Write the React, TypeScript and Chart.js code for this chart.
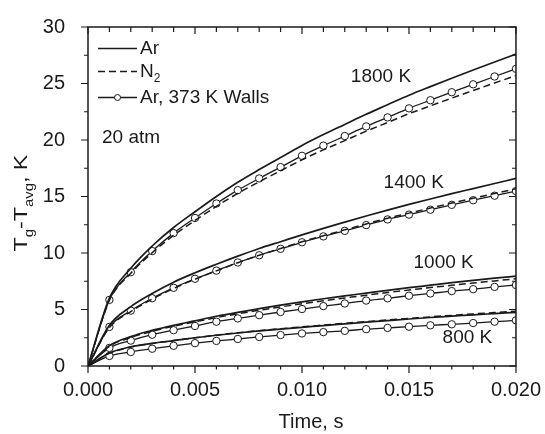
import React, { useEffect, useRef } from "react";
import { Chart, registerables } from "chart.js";
Chart.register(...registerables);

const time = [0, 0.001, 0.002, 0.003, 0.004, 0.005, 0.006, 0.007, 0.008, 0.009, 0.01, 0.011, 0.012, 0.013, 0.014, 0.015, 0.016, 0.017, 0.018, 0.019, 0.02];

const ar1800 = [0, 6.0, 8.65, 10.62, 12.26, 13.65, 15.0, 16.26, 17.38, 18.45, 19.52, 20.48, 21.38, 22.28, 23.12, 23.96, 24.72, 25.46, 26.19, 26.9, 27.6];
const n2_1800 = [0, 5.8, 8.2, 10.02, 11.56, 12.88, 14.13, 15.28, 16.3, 17.28, 18.25, 19.13, 19.95, 20.78, 21.55, 22.33, 23.02, 23.71, 24.38, 25.05, 25.7];
const walls1800 = [0, 5.85, 8.3, 10.17, 11.76, 13.1, 14.38, 15.56, 16.6, 17.6, 18.6, 19.5, 20.35, 21.2, 22.0, 22.8, 23.52, 24.23, 24.93, 25.62, 26.3];

const ar1400 = [0, 3.6, 5.25, 6.42, 7.42, 8.25, 9.0, 9.72, 10.4, 11.0, 11.6, 12.18, 12.73, 13.27, 13.8, 14.3, 14.78, 15.25, 15.7, 16.15, 16.6];
const n2_1400 = [0, 3.4, 4.82, 5.92, 6.86, 7.68, 8.42, 9.14, 9.8, 10.4, 11.0, 11.53, 12.05, 12.57, 13.08, 13.53, 13.98, 14.42, 14.85, 15.27, 15.68];
const walls1400 = [0, 3.46, 4.9, 6.0, 6.92, 7.72, 8.44, 9.16, 9.8, 10.37, 10.95, 11.47, 11.96, 12.47, 12.97, 13.4, 13.83, 14.26, 14.67, 15.07, 15.48];

const ar1000 = [0, 1.8, 2.6, 3.15, 3.6, 4.0, 4.4, 4.75, 5.07, 5.38, 5.67, 5.95, 6.2, 6.45, 6.7, 6.93, 7.15, 7.37, 7.57, 7.77, 7.95];
const n2_1000 = [0, 1.75, 2.52, 3.07, 3.52, 3.91, 4.28, 4.62, 4.93, 5.23, 5.5, 5.77, 6.02, 6.26, 6.5, 6.72, 6.94, 7.14, 7.34, 7.53, 7.72];
const walls1000 = [0, 1.6, 2.25, 2.77, 3.17, 3.54, 3.92, 4.21, 4.5, 4.78, 5.04, 5.3, 5.53, 5.79, 5.99, 6.22, 6.42, 6.63, 6.8, 7.0, 7.17];

const ar800 = [0, 1.15, 1.7, 2.0, 2.25, 2.5, 2.72, 2.92, 3.1, 3.27, 3.42, 3.58, 3.73, 3.88, 4.02, 4.16, 4.29, 4.41, 4.53, 4.64, 4.75];
const n2_800 = [0, 1.12, 1.68, 1.99, 2.25, 2.5, 2.73, 2.94, 3.13, 3.3, 3.46, 3.62, 3.78, 3.93, 4.07, 4.21, 4.35, 4.48, 4.61, 4.73, 4.85];
const walls800 = [0, 0.89, 1.24, 1.53, 1.79, 2.02, 2.22, 2.39, 2.57, 2.74, 2.88, 3.0, 3.11, 3.26, 3.37, 3.48, 3.6, 3.69, 3.8, 3.92, 4.04];

const tempLabels = ["1800 K", "1400 K", "1000 K", "800 K"];
// label anchor positions in data units (time, value)
const tempLabelX = [0.01369, 0.01522, 0.01662, 0.01773];
const tempLabelY = [25.6, 16.25, 9.1, 2.53];
const legendLabels = ["Ar", "N", "Ar, 373 K Walls"];
const pressureLabel = "20 atm";
const xTitle = "Time, s";

const FONT = "'Liberation Sans', Arial, sans-serif";
const INK = "#1a1a1a";

const pts = (ys: number[]) => time.map((t, i) => ({ x: t, y: ys[i] }));

const solid = (data: number[]) => ({
  data: pts(data),
  borderColor: INK,
  borderWidth: 1.7,
  pointRadius: 0,
  cubicInterpolationMode: "monotone" as const,
  fill: false,
});
const dashed = (data: number[]) => ({
  data: pts(data),
  borderColor: INK,
  borderWidth: 1.5,
  borderDash: [7, 4],
  pointRadius: 0,
  cubicInterpolationMode: "monotone" as const,
  fill: false,
});
const walls = (data: number[]) => ({
  data: pts(data),
  borderColor: INK,
  borderWidth: 1.3,
  pointRadius: (c: any) => (c.dataIndex === 0 ? 0 : 3.7),
  pointBackgroundColor: "#ffffff",
  pointBorderColor: INK,
  pointBorderWidth: 1,
  cubicInterpolationMode: "monotone" as const,
  fill: false,
});

const decorPlugin = {
  id: "decor",
  afterDatasetsDraw(chart: any) {
    const { ctx, chartArea: a, scales } = chart;
    const xs = scales.x;
    const ys = scales.y;
    ctx.save();
    ctx.strokeStyle = INK;
    ctx.fillStyle = INK;
    // frame
    ctx.lineWidth = 1.5;
    ctx.strokeRect(a.left, a.top, a.right - a.left, a.bottom - a.top);
    // ticks
    ctx.lineWidth = 1.2;
    ctx.beginPath();
    for (let i = 0; i <= 20; i++) {
      const px = xs.getPixelForValue(i * 0.001);
      const major = i % 5 === 0;
      ctx.moveTo(px, a.bottom);
      ctx.lineTo(px, a.bottom + (major ? 7 : 3.5));
      ctx.moveTo(px, a.top);
      ctx.lineTo(px, a.top + (major ? 7 : 5));
    }
    for (let i = 0; i <= 12; i++) {
      const py = ys.getPixelForValue(i * 2.5);
      const major = i % 2 === 0;
      ctx.moveTo(a.left, py);
      ctx.lineTo(a.left - (major ? 7 : 4), py);
      ctx.moveTo(a.right, py);
      ctx.lineTo(a.right - (major ? 7 : 4), py);
    }
    ctx.stroke();

    // legend
    const lx0 = a.left + 10;
    const lx1 = a.left + 49;
    const tx = a.left + 52;
    const rows = [a.top + 21.5, a.top + 44.5, a.top + 70.5];
    ctx.font = `19px ${FONT}`;
    ctx.textBaseline = "middle";
    ctx.textAlign = "left";
    // Ar
    ctx.lineWidth = 1.7;
    ctx.setLineDash([]);
    ctx.beginPath();
    ctx.moveTo(lx0, rows[0]);
    ctx.lineTo(lx1, rows[0]);
    ctx.stroke();
    ctx.fillText(legendLabels[0], tx, rows[0]);
    // N2
    ctx.lineWidth = 1.5;
    ctx.setLineDash([7, 4]);
    ctx.beginPath();
    ctx.moveTo(lx0, rows[1]);
    ctx.lineTo(lx1, rows[1]);
    ctx.stroke();
    ctx.setLineDash([]);
    ctx.fillText(legendLabels[1], tx, rows[1]);
    const nW = ctx.measureText(legendLabels[1]).width;
    ctx.font = `12px ${FONT}`;
    ctx.fillText("2", tx + nW, rows[1] + 7);
    ctx.font = `19px ${FONT}`;
    // walls
    ctx.lineWidth = 1.3;
    ctx.beginPath();
    ctx.moveTo(lx0, rows[2]);
    ctx.lineTo(lx1, rows[2]);
    ctx.stroke();
    ctx.beginPath();
    ctx.arc((lx0 + lx1) / 2, rows[2], 3, 0, Math.PI * 2);
    ctx.fillStyle = "#ffffff";
    ctx.fill();
    ctx.lineWidth = 1;
    ctx.stroke();
    ctx.fillStyle = INK;
    ctx.fillText(legendLabels[2], tx, rows[2]);
    // pressure
    ctx.fillText(pressureLabel, a.left + 14, a.top + 111);

    // temperature labels
    ctx.textAlign = "center";
    tempLabels.forEach((t, i) => {
      ctx.fillText(t, xs.getPixelForValue(tempLabelX[i]), ys.getPixelForValue(tempLabelY[i]));
    });

    // x title
    ctx.font = `20px ${FONT}`;
    ctx.fillText(xTitle, (a.left + a.right) / 2 + 9, 422);

    // y title (rotated, subscripts)
    const parts: [string, boolean][] = [["T", false], ["g", true], ["-T", false], ["avg", true], [", K", false]];
    const mainF = `19px ${FONT}`;
    const subF = `12px ${FONT}`;
    let total = 0;
    parts.forEach(([s, sub]) => {
      ctx.font = sub ? subF : mainF;
      total += ctx.measureText(s).width;
    });
    ctx.translate(27, 203);
    ctx.rotate(-Math.PI / 2);
    ctx.scale(1.23, 1);
    ctx.textAlign = "left";
    ctx.textBaseline = "alphabetic";
    let cx = -total / 2;
    parts.forEach(([s, sub]) => {
      ctx.font = sub ? subF : mainF;
      ctx.fillText(s, cx, sub ? 6 : 0);
      cx += ctx.measureText(s).width;
    });
    ctx.restore();
  },
};

export default function App() {
  const ref = useRef<HTMLCanvasElement | null>(null);
  useEffect(() => {
    if (!ref.current) return;
    const chart = new Chart(ref.current, {
      type: "line",
      data: {
        datasets: [
          solid(ar1800), dashed(n2_1800), walls(walls1800),
          solid(ar1400), dashed(n2_1400), walls(walls1400),
          solid(ar1000), dashed(n2_1000), walls(walls1000),
          solid(ar800), dashed(n2_800), walls(walls800),
        ] as any,
      },
      options: {
        animation: false,
        responsive: false,
        devicePixelRatio: 1,
        layout: { padding: { top: 19, right: 27, left: 0, bottom: 0 } },
        plugins: { legend: { display: false }, tooltip: { enabled: false } },
        scales: {
          x: {
            type: "linear",
            min: 0,
            max: 0.02,
            grid: { display: false },
            border: { display: false },
            afterFit: (s: any) => { s.height = 68; },
            ticks: {
              stepSize: 0.005,
              padding: 4,
              color: INK,
              font: { family: FONT, size: 20 },
              maxRotation: 0,
              callback: (v: any) => Number(v).toFixed(3),
            },
          },
          y: {
            type: "linear",
            min: 0,
            max: 30,
            grid: { display: false },
            border: { display: false },
            afterFit: (s: any) => { s.width = 88; },
            ticks: {
              stepSize: 5,
              padding: 15,
              color: INK,
              font: { family: FONT, size: 20 },
            },
          },
        },
      },
      plugins: [decorPlugin],
    });
    return () => chart.destroy();
  }, []);
  return (
    <div style={{ position: "absolute", left: 0, top: 0, width: 545, height: 434, background: "#fff" }}>
      <canvas ref={ref} width={545} height={434} />
    </div>
  );
}
